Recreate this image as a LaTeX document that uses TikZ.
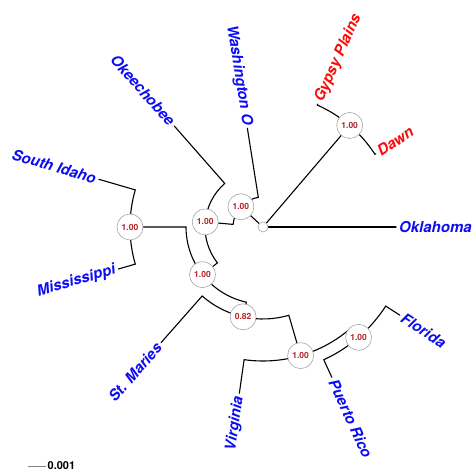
\documentclass[tikz,border=0pt]{standalone}
\usepackage{fontspec}
\setmainfont{TeX Gyre Heros}
\usetikzlibrary{backgrounds}
\definecolor{supred}{RGB}{178,38,42}
\definecolor{tipblue}{RGB}{12,12,245}
\definecolor{tipred}{RGB}{250,12,12}
\definecolor{ringgray}{RGB}{165,165,165}
\begin{document}
\begin{tikzpicture}[x=1pt,y=1pt,
  branch/.style={line width=1.1pt,line cap=round},
  support/.style={circle,draw=ringgray,fill=white,line width=0.6pt,minimum size=26pt,
    inner sep=0pt,text=supred,font=\fontsize{8.5}{10}\selectfont\bfseries},
  rootdot/.style={circle,draw=ringgray,fill=white,line width=0.6pt,minimum size=10pt,inner sep=0pt},
  tiplab/.style={text=tipblue,inner sep=3pt,font=\fontsize{15}{18}\selectfont\bfseries\itshape},
  redlab/.style={tiplab,text=tipred}]
  \useasboundingbox (0,0) rectangle (473,471);

  \begin{scope}[shift={(263,244)}]
    % root and support values
    \node[rootdot] (nO) at (0,0) {};
    \node[support] (nG) at (49.5:133.5) {1.00};
    \node[support] (nB) at (137.5:30) {1.00};
    \node[support] (nA) at (175:58) {1.00};
    \node[support] (nC) at (218.2:77) {1.00};
    \node[support] (nSI) at (180:133) {1.00};
    \node[support] (nE) at (257.5:92) {0.82};
    \node[support] (nF) at (286.3:134) {1.00};
    \node[support] (nH) at (310.9:146) {1.00};

    % tips
    \coordinate (tOkl) at (0:133);
    \coordinate (tGyp) at (66:134.5);
    \coordinate (tDawn) at (33:134.5);
    \coordinate (tWash) at (99:100);
    \coordinate (tOkee) at (131.3:134.4);
    \coordinate (tSId) at (163.8:171);
    \coordinate (tMiss) at (196.2:150.7);
    \coordinate (tStM) at (228.6:154.2);
    \coordinate (tVirg) at (261.9:168);
    \coordinate (tPR) at (294.6:165.3);
    \coordinate (tFla) at (327.2:162.8);

    % tip labels
    \node[tiplab,anchor=west] (lOkl) at (tOkl) {Oklahoma};
    \node[redlab,anchor=west,rotate=66] (lGyp) at (tGyp) {Gypsy Plains};
    \node[redlab,anchor=west,rotate=33] (lDawn) at (tDawn) {Dawn};
    \node[tiplab,anchor=east,rotate=-81] (lWash) at (tWash) {Washington O};
    \node[tiplab,anchor=east,rotate=-48.7] (lOkee) at (tOkee) {Okeechobee};
    \node[tiplab,anchor=east,rotate=-16.2] (lSId) at (tSId) {South Idaho};
    \node[tiplab,anchor=east,rotate=16.2] (lMiss) at (tMiss) {Mississippi};
    \node[tiplab,anchor=east,rotate=48.6] (lStM) at (tStM) {St. Maries};
    \node[tiplab,anchor=east,rotate=81.9] (lVirg) at (tVirg) {Virginia};
    \node[tiplab,anchor=west,rotate=-65.4] (lPR) at (tPR) {Puerto Rico};
    \node[tiplab,anchor=west,rotate=-32.8] (lFla) at (tFla) {Florida};

    % branches: arc at the parent radius, then out along the radius
    \begin{scope}[on background layer]
      \draw[branch] (nO.center) -- (tOkl);
      \draw[branch] (nO.center) -- (nG.center);
      \draw[branch] (nO.center) -- (nB.center);

      \draw[branch] (nG.center) arc[start angle=49.5,end angle=66,radius=133.5pt] -- (tGyp);
      \draw[branch] (nG.center) arc[start angle=49.5,end angle=33,radius=133.5pt] -- (tDawn);

      \draw[branch] (nB.center) arc[start angle=137.5,end angle=99,radius=30pt] -- (tWash);
      \draw[branch] (nB.center) arc[start angle=137.5,end angle=175,radius=30pt] -- (nA.center);

      \draw[branch] (nA.center) arc[start angle=175,end angle=131.3,radius=58pt] -- (tOkee);
      \draw[branch] (nA.center) arc[start angle=175,end angle=218.2,radius=58pt] -- (nC.center);

      \draw[branch] (nC.center) arc[start angle=218.2,end angle=180,radius=77pt] -- (nSI.center);
      \draw[branch] (nC.center) arc[start angle=218.2,end angle=257.5,radius=77pt] -- (nE.center);

      \draw[branch] (nSI.center) arc[start angle=180,end angle=163.8,radius=133pt] -- (tSId);
      \draw[branch] (nSI.center) arc[start angle=180,end angle=196.2,radius=133pt] -- (tMiss);

      \draw[branch] (nE.center) arc[start angle=257.5,end angle=228.6,radius=92pt] -- (tStM);
      \draw[branch] (nE.center) arc[start angle=257.5,end angle=286.3,radius=92pt] -- (nF.center);

      \draw[branch] (nF.center) arc[start angle=286.3,end angle=261.9,radius=134pt] -- (tVirg);
      \draw[branch] (nF.center) arc[start angle=286.3,end angle=310.9,radius=134pt] -- (nH.center);

      \draw[branch] (nH.center) arc[start angle=310.9,end angle=294.6,radius=146pt] -- (tPR);
      \draw[branch] (nH.center) arc[start angle=310.9,end angle=327.2,radius=146pt] -- (tFla);
    \end{scope}
  \end{scope}

  % scale bar
  \coordinate (sb0) at (28,5);
  \node[anchor=west,inner sep=1.5pt,font=\fontsize{11}{13}\selectfont\bfseries] (sblab) at (46,5) {0.001};
  \draw[ringgray!80!black,line width=0.7pt] (sb0) -- (sblab.west);
\end{tikzpicture}
\end{document}
